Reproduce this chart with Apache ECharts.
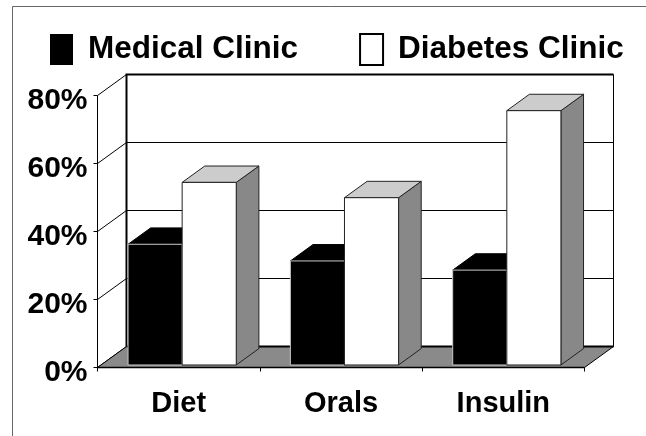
<!DOCTYPE html>
<html>
<head>
<meta charset="utf-8">
<script src="https://cdn.jsdelivr.net/npm/echarts@6/dist/echarts.min.js"></script>
<style>
  html, body { margin: 0; padding: 0; background: #fff; }
  #chart { width: 646px; height: 436px; }
</style>
</head>
<body>
<div id="chart"></div>
<script>
// Share of patients by treatment, per clinic (%)
const categories = ['Diet', 'Orals', 'Insulin'];
const medicalClinic = [35.5, 30.6, 27.9];
const diabetesClinic = [53.7, 49.2, 74.8];
const seriesNames = ['Medical Clinic', 'Diabetes Clinic'];
const yTicks = [0, 20, 40, 60, 80];

// Depth of the 3-D box, in pixels, and where the bars sit inside it
const DX = 29, DY = -21;
const BAR_FRONT = 0.12, BAR_BACK = 0.9;
const FONT = '"Liberation Sans", Arial, Helvetica, sans-serif';

function shift(p, f) { return [p[0] + DX * f, p[1] + DY * f]; }
function crisp(v) { return Math.round(v - 0.5) + 0.5; }

// Back wall, side grid lines and floor
function renderBox(params, api) {
  const n = categories.length;
  const bw = api.size([1, 0])[0];
  const yMin = yTicks[0], yMax = yTicks[yTicks.length - 1];
  const left = api.coord([0, yMin])[0] - bw / 2;
  const right = api.coord([n - 1, yMin])[0] + bw / 2;
  const bottom = api.coord([0, yMin])[1];
  const top = api.coord([0, yMax])[1];
  const fl = [left, bottom], fr = [right, bottom];
  const bl = shift(fl, 1), br = shift(fr, 1);
  const btl = shift([left, top], 1), btr = shift([right, top], 1);
  const ch = [];
  ch.push({ type: 'polygon', shape: { points: [bl, br, btr, btl] }, style: { fill: '#fff' } });
  yTicks.slice(1, -1).forEach(v => {
    const y = crisp(shift(api.coord([0, v]), 1)[1]);
    ch.push({ type: 'line', shape: { x1: btl[0], y1: y, x2: btr[0], y2: y }, style: { stroke: '#000', lineWidth: 1 } });
  });
  yTicks.forEach(v => {
    const p = [crisp(left), crisp(api.coord([0, v])[1])];
    const q = shift(p, 1);
    ch.push({ type: 'line', shape: { x1: p[0], y1: p[1], x2: q[0], y2: q[1] }, style: { stroke: '#000', lineWidth: 1 } });
  });
  // back wall outline
  ch.push({ type: 'polyline', shape: { points: [bl, btl, btr] }, style: { stroke: '#000', lineWidth: 2, fill: null } });
  ch.push({ type: 'line', shape: { x1: crisp(btr[0]), y1: btr[1], x2: crisp(br[0]), y2: br[1] }, style: { stroke: '#000', lineWidth: 1 } });
  // floor
  ch.push({ type: 'polygon', shape: { points: [fl, fr, br, bl] }, style: { fill: '#8a8a8a', stroke: '#000', lineWidth: 1 } });
  ch.push({ type: 'line', shape: { x1: bl[0], y1: bl[1], x2: br[0], y2: br[1] }, style: { stroke: '#000', lineWidth: 2 } });
  ch.push({ type: 'line', shape: { x1: fl[0], y1: crisp(bottom), x2: fr[0], y2: crisp(bottom) }, style: { stroke: '#000', lineWidth: 1.5 } });
  // front value axis
  ch.push({ type: 'line', shape: { x1: crisp(left), y1: top, x2: crisp(left), y2: bottom }, style: { stroke: '#000', lineWidth: 1 } });
  return { type: 'group', children: ch };
}

// One 3-D bar: front face, top and right side
function barRenderer(sIdx, faces) {
  return function (params, api) {
    const cat = api.value(0), val = api.value(1);
    const bw = api.size([1, 0])[0];
    const w = bw / 3;
    const base = api.coord([cat, 0]);
    const tip = api.coord([cat, val]);
    const x0 = base[0] - bw / 2 + bw / 6 + sIdx * w;
    const x1 = x0 + w;
    const fbl = shift([x0, base[1]], BAR_FRONT), fbr = shift([x1, base[1]], BAR_FRONT);
    const ftl = shift([x0, tip[1]], BAR_FRONT), ftr = shift([x1, tip[1]], BAR_FRONT);
    const btl = shift([x0, tip[1]], BAR_BACK), btr = shift([x1, tip[1]], BAR_BACK);
    const bbr = shift([x1, base[1]], BAR_BACK);
    return {
      type: 'group',
      children: [
        { type: 'polygon', shape: { points: [fbr, ftr, btr, bbr] }, style: { fill: faces.side, stroke: faces.edge, lineWidth: 1 } },
        { type: 'polygon', shape: { points: [ftl, ftr, btr, btl] }, style: { fill: faces.top, stroke: faces.edge, lineWidth: 1 } },
        { type: 'polygon', shape: { points: [fbl, fbr, ftr, ftl] }, style: { fill: faces.front, stroke: faces.frontEdge, lineWidth: 1 } }
      ]
    };
  };
}

const chart = echarts.init(document.getElementById('chart'), null, { renderer: 'canvas' });

chart.setOption({
  animation: false,
  backgroundColor: '#fff',
  textStyle: { fontFamily: FONT },
  graphic: [{
    type: 'rect', z: -10, silent: true,
    shape: { x: 12.5, y: 6.5, width: 700, height: 500 },
    style: { fill: null, stroke: '#666', lineWidth: 1 }
  }],
  legend: {
    left: 45, top: 28,
    itemWidth: 23, itemHeight: 31, itemGap: 61,
    icon: 'rect',
    selectedMode: false,
    textStyle: { fontFamily: FONT, fontSize: 31.5, fontWeight: 'bold', color: '#000', padding: [0, 0, 0, 10] },
    data: [
      { name: seriesNames[0], itemStyle: { color: '#000', borderWidth: 0 } },
      { name: seriesNames[1], itemStyle: { color: '#fff', borderColor: '#000', borderWidth: 2 } }
    ]
  },
  grid: { left: 97.5, right: 61.5, top: 95.5, bottom: 68.5, containLabel: false },
  xAxis: {
    type: 'category',
    data: categories,
    axisLine: { show: false },
    axisTick: { show: true, length: 4, lineStyle: { color: '#000' } },
    axisLabel: { margin: 22, fontFamily: FONT, fontSize: 29, fontWeight: 'bold', color: '#000' },
    splitLine: { show: false }
  },
  yAxis: {
    type: 'value',
    min: yTicks[0], max: yTicks[yTicks.length - 1], interval: 20,
    axisLine: { show: false },
    axisTick: { show: true, length: 4, lineStyle: { color: '#000' } },
    axisLabel: {
      margin: 10,
      formatter: '{t|{value}%}',
      rich: { t: { fontFamily: FONT, fontSize: 30, fontWeight: 'bold', color: '#000', padding: [11, 0, 0, 0] } }
    },
    splitLine: { show: false }
  },
  series: [
    {
      type: 'custom', name: '_box', z: 1, silent: true,
      renderItem: renderBox,
      data: [[0, 0]],
      encode: { x: 0, y: 1 }
    },
    {
      type: 'custom', name: seriesNames[0], z: 2,
      itemStyle: { color: '#000' },
      renderItem: barRenderer(0, { front: '#000', top: '#000', side: '#000', edge: '#000', frontEdge: '#c8c8c8' }),
      data: medicalClinic.map((v, i) => [i, v]),
      encode: { x: 0, y: 1 }
    },
    {
      type: 'custom', name: seriesNames[1], z: 3,
      itemStyle: { color: '#fff', borderColor: '#000', borderWidth: 2 },
      renderItem: barRenderer(1, { front: '#fff', top: '#cccccc', side: '#888888', edge: '#222', frontEdge: '#222' }),
      data: diabetesClinic.map((v, i) => [i, v]),
      encode: { x: 0, y: 1 }
    }
  ]
});
</script>
</body>
</html>
